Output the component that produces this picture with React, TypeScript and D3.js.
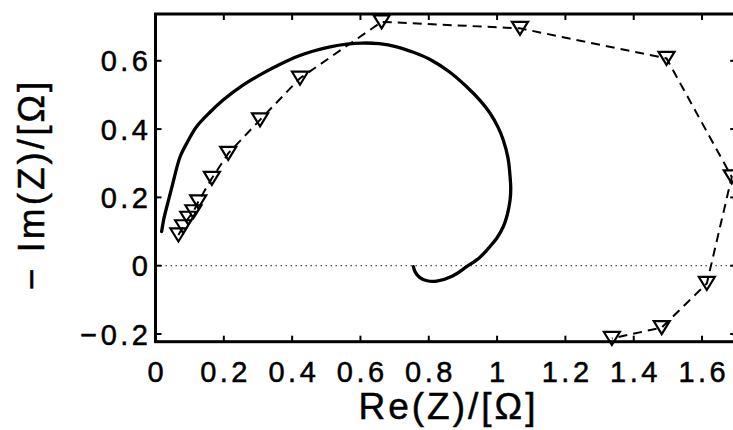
import React from "react";
import * as d3 from "d3";

// Axis limits and ticks
const xLimits = [0, 1.7];
const yLimits = [-0.2225, 0.737];
const xTicks = [0, 0.2, 0.4, 0.6, 0.8, 1, 1.2, 1.4, 1.6];
const yTicks = [-0.2, 0, 0.2, 0.4, 0.6];
const xTickLabels = ["0", "0.2", "0.4", "0.6", "0.8", "1", "1.2", "1.4", "1.6"];
const yTickLabels = ["\u22120.2", "0", "0.2", "0.4", "0.6"];

// Model impedance spectrum (solid curve)
const modelRe = [
  0.018, 0.025, 0.035, 0.048, 0.072, 0.095, 0.12, 0.16, 0.198, 0.255, 0.315,
  0.365, 0.413, 0.46, 0.511, 0.56, 0.607, 0.655, 0.706, 0.755, 0.804, 0.86,
  0.911, 0.95, 0.979, 1.003, 1.018, 1.032, 1.038, 1.04, 1.038, 1.03, 1.018,
  1.0, 0.979, 0.95, 0.911, 0.87, 0.823, 0.795, 0.774, 0.76, 0.755,
];
const modelIm = [
  0.1, 0.14, 0.18, 0.23, 0.319, 0.365, 0.407, 0.45, 0.485, 0.528, 0.564, 0.59,
  0.612, 0.628, 0.641, 0.649, 0.652, 0.65, 0.641, 0.625, 0.604, 0.568, 0.524,
  0.484, 0.447, 0.405, 0.368, 0.315, 0.261, 0.225, 0.192, 0.15, 0.114, 0.082,
  0.056, 0.025, -0.003, -0.03, -0.045, -0.044, -0.035, -0.018, -0.003,
];

// Measured spectrum (dashed line with triangle markers)
const measRe = [
  0.067, 0.081, 0.096, 0.111, 0.125, 0.165, 0.213, 0.306, 0.423, 0.662, 1.067,
  1.496, 1.687, 1.614, 1.482, 1.336,
];
const measIm = [
  0.09, 0.114, 0.139, 0.158, 0.187, 0.256, 0.329, 0.427, 0.549, 0.714, 0.695,
  0.607, 0.26, -0.052, -0.181, -0.213,
];

const W = 733;
const H = 430;
const plot = { left: 155.5, top: 14, right: 736.2, bottom: 341.7 };
const FONT = "'Liberation Sans', Arial, Helvetica, sans-serif";
const TICK_LEN = 6;

export default function App() {
  const x = d3.scaleLinear().domain(xLimits).range([plot.left, plot.right]);
  const y = d3.scaleLinear().domain(yLimits).range([plot.bottom, plot.top]);

  const model = modelRe.map((r, i) => [r, modelIm[i]] as [number, number]);
  const meas = measRe.map((r, i) => [r, measIm[i]] as [number, number]);

  const smooth = d3
    .line<[number, number]>()
    .x((d) => x(d[0]))
    .y((d) => y(d[1]))
    .curve(d3.curveCatmullRom.alpha(0.5));
  const straight = d3
    .line<[number, number]>()
    .x((d) => x(d[0]))
    .y((d) => y(d[1]));

  const tri = "M-8,-6.5 L8,-6.5 L0,6.5 Z";
  const tickLS = 3.5;
  const labelLS = 3;

  return (
    <svg
      width={W}
      height={H}
      style={{ position: "absolute", left: 0, top: 0, background: "#fff" }}
    >
      <defs>
        <clipPath id="plotArea">
          <rect
            x={plot.left}
            y={plot.top}
            width={plot.right - plot.left}
            height={plot.bottom - plot.top}
          />
        </clipPath>
      </defs>
      <rect width={W} height={H} fill="#fff" />

      {/* zero reference line */}
      <line
        x1={plot.left}
        x2={plot.right}
        y1={y(0)}
        y2={y(0)}
        stroke="#222"
        strokeWidth={1}
        strokeDasharray="1.5 3.5"
      />

      {/* model curve */}
      <path
        d={smooth(model) ?? ""}
        fill="none"
        stroke="#000"
        strokeWidth={3.3}
        strokeLinecap="round"
        strokeLinejoin="round"
        clipPath="url(#plotArea)"
      />

      {/* measured data */}
      <path
        d={straight(meas) ?? ""}
        fill="none"
        stroke="#000"
        strokeWidth={2}
        strokeDasharray="9 6"
        clipPath="url(#plotArea)"
      />
      {meas.map((d, i) => (
        <path
          key={i}
          d={tri}
          transform={`translate(${x(d[0])},${y(d[1])})`}
          fill="none"
          stroke="#000"
          strokeWidth={2.2}
          strokeLinejoin="miter"
        />
      ))}

      {/* axes box */}
      <rect
        x={plot.left}
        y={plot.top}
        width={plot.right - plot.left}
        height={plot.bottom - plot.top}
        fill="none"
        stroke="#000"
        strokeWidth={3}
      />

      {/* ticks */}
      {xTicks.map((t) => (
        <g key={`xt${t}`}>
          <line x1={x(t)} x2={x(t)} y1={plot.bottom} y2={plot.bottom - TICK_LEN} stroke="#000" strokeWidth={2} />
          <line x1={x(t)} x2={x(t)} y1={plot.top} y2={plot.top + TICK_LEN} stroke="#000" strokeWidth={2} />
        </g>
      ))}
      {yTicks.map((t) => (
        <g key={`yt${t}`}>
          <line x1={plot.left} x2={plot.left + TICK_LEN} y1={y(t)} y2={y(t)} stroke="#000" strokeWidth={2} />
          <line x1={plot.right} x2={plot.right - TICK_LEN} y1={y(t)} y2={y(t)} stroke="#000" strokeWidth={2} />
        </g>
      ))}

      {/* tick labels */}
      <g
        fontFamily={FONT}
        fontSize={29}
        fill="#000"
        stroke="#000"
        strokeWidth={0.5}
        letterSpacing={tickLS}
      >
        {xTicks.map((t, i) => (
          <text key={`xl${t}`} x={x(t) + tickLS / 2} y={381.5} textAnchor="middle">
            {xTickLabels[i]}
          </text>
        ))}
        {yTicks.map((t, i) => (
          <text key={`yl${t}`} x={148 + tickLS} y={y(t) + 10.5} textAnchor="end">
            {yTickLabels[i]}
          </text>
        ))}
      </g>

      {/* axis labels */}
      <g fontFamily={FONT} fontSize={37} fill="#000" stroke="#000" strokeWidth={0.5}>
        <text
          x={447 + labelLS / 2}
          y={419}
          textAnchor="middle"
          letterSpacing={labelLS}
        >
          Re(Z)/[Ω]
        </text>
        <text
          transform={`translate(44,${186 - labelLS / 2}) rotate(-90)`}
          textAnchor="middle"
          letterSpacing={labelLS}
        >
          {"\u2212 Im(Z)/[Ω]"}
        </text>
      </g>
    </svg>
  );
}
